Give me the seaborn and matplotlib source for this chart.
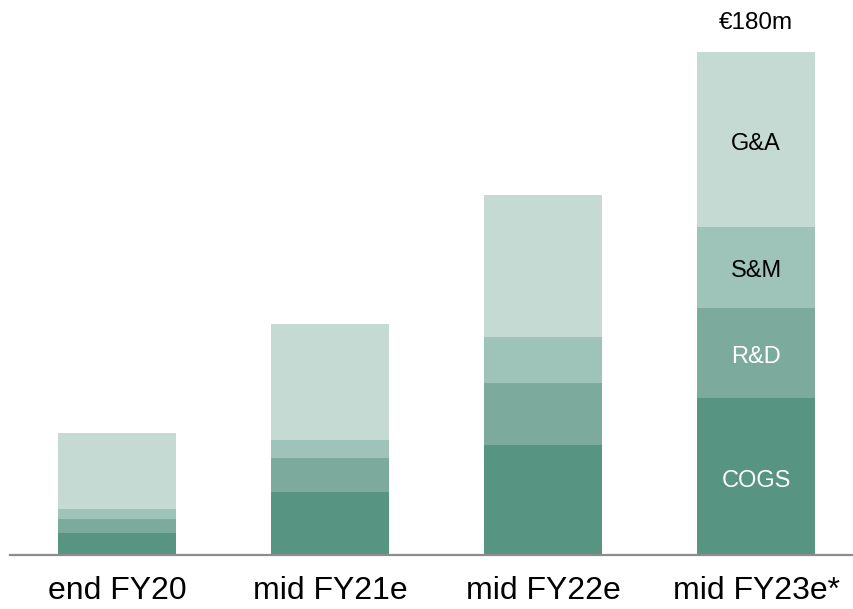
import matplotlib
matplotlib.use("Agg")
import matplotlib.pyplot as plt
import numpy as np
import pandas as pd
import seaborn as sns

# Operating cost build-up by period (€m)
periods = ["end FY20", "mid FY21e", "mid FY22e", "mid FY23e*"]
cogs = [7.9, 22.7, 39.3, 56.1]
rnd = [5.0, 12.2, 22.3, 32.4]
snm = [3.6, 6.4, 16.6, 29.0]
gna = [27.2, 41.5, 50.8, 62.5]
total_label = "€180m"

segments = ["COGS", "R&D", "S&M", "G&A"]
seg_values = [cogs, rnd, snm, gna]
seg_colors = ["#579482", "#7caa9c", "#9ec4b9", "#c4dad3"]
seg_text = ["white", "white", "black", "black"]

sns.set_theme(style="white")
plt.rcParams["font.family"] = ["Liberation Sans", "DejaVu Sans"]

fig = plt.figure(figsize=(8.54, 6.09), dpi=100)
ax = fig.add_axes([10 / 854, 54 / 609, 844 / 854, 555 / 609])

cum = np.cumsum(np.array(seg_values), axis=0)
df = pd.DataFrame({"period": periods})

# draw cumulative totals from the top segment down so each layer shows its slice
for i in range(len(segments) - 1, -1, -1):
    df["value"] = cum[i]
    sns.barplot(data=df, x="period", y="value", color=seg_colors[i],
                width=0.555, saturation=1, linewidth=0, ax=ax)

# segment labels on the last bar
last = len(periods) - 1
for i, name in enumerate(segments):
    lo = cum[i - 1][last] if i > 0 else 0
    hi = cum[i][last]
    ax.text(last, (lo + hi) / 2 - 0.6, name, ha="center", va="center_baseline",
            fontsize=17, color=seg_text[i])

ax.text(last, cum[-1][last] + 11.5, total_label, ha="center",
        va="center_baseline", fontsize=17.5, color="black")

ax.set_xlim(-0.504, 3.459)
ax.set_ylim(0, 198.7)
ax.set_xlabel("")
ax.set_ylabel("")
ax.set_yticks([])
for side in ["top", "right", "left"]:
    ax.spines[side].set_visible(False)
ax.spines["bottom"].set_color("#8c8c8c")
ax.spines["bottom"].set_linewidth(1.6)
ax.tick_params(axis="x", length=0, pad=15, labelsize=23, colors="black")

fig.savefig("out.png", dpi=100)
